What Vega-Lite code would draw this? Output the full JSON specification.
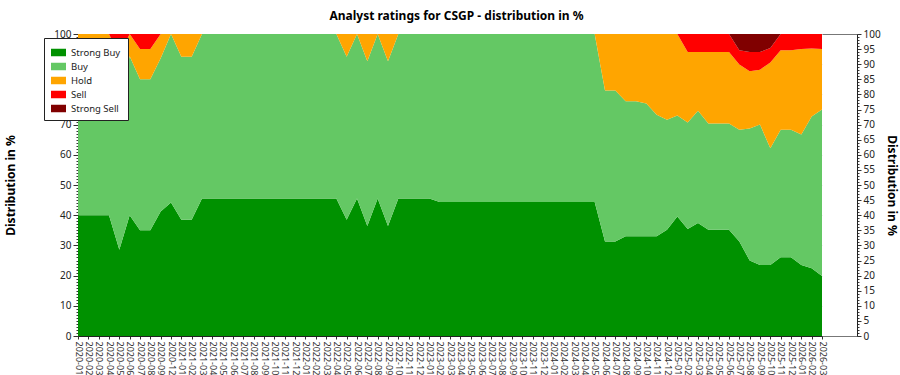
{
  "$schema": "https://vega.github.io/schema/vega-lite/v6.json",
  "width": 779,
  "height": 302,
  "autosize": "none",
  "padding": {"left": 78, "top": 34, "right": 43, "bottom": 39},
  "background": "white",
  "title": {"text": "Analyst ratings for CSGP - distribution in %", "anchor": "middle", "offset": 6, "fontSize": 12, "fontWeight": "bold", "color": "#000", "dx": -11, "font": "Noto Sans"},
  "data": {"values": [
    {"month": "2020-01", "Strong Buy": 40, "Buy": 50, "Hold": 10, "Sell": 0, "Strong Sell": 0},
    {"month": "2020-02", "Strong Buy": 40, "Buy": 50, "Hold": 10, "Sell": 0, "Strong Sell": 0},
    {"month": "2020-03", "Strong Buy": 40, "Buy": 50, "Hold": 10, "Sell": 0, "Strong Sell": 0},
    {"month": "2020-04", "Strong Buy": 40, "Buy": 50, "Hold": 10, "Sell": 0, "Strong Sell": 0},
    {"month": "2020-05", "Strong Buy": 28.6, "Buy": 50, "Hold": 14.3, "Sell": 7.1, "Strong Sell": 0},
    {"month": "2020-06", "Strong Buy": 40, "Buy": 52.6, "Hold": 7.4, "Sell": 0, "Strong Sell": 0},
    {"month": "2020-07", "Strong Buy": 35, "Buy": 50, "Hold": 10, "Sell": 5, "Strong Sell": 0},
    {"month": "2020-08", "Strong Buy": 35, "Buy": 50, "Hold": 10, "Sell": 5, "Strong Sell": 0},
    {"month": "2020-09", "Strong Buy": 41.2, "Buy": 50.8, "Hold": 8, "Sell": 0, "Strong Sell": 0},
    {"month": "2020-12", "Strong Buy": 44.2, "Buy": 55.8, "Hold": 0, "Sell": 0, "Strong Sell": 0},
    {"month": "2021-01", "Strong Buy": 38.5, "Buy": 54, "Hold": 7.5, "Sell": 0, "Strong Sell": 0},
    {"month": "2021-02", "Strong Buy": 38.5, "Buy": 54, "Hold": 7.5, "Sell": 0, "Strong Sell": 0},
    {"month": "2021-03", "Strong Buy": 45.5, "Buy": 54.5, "Hold": 0, "Sell": 0, "Strong Sell": 0},
    {"month": "2021-04", "Strong Buy": 45.5, "Buy": 54.5, "Hold": 0, "Sell": 0, "Strong Sell": 0},
    {"month": "2021-05", "Strong Buy": 45.5, "Buy": 54.5, "Hold": 0, "Sell": 0, "Strong Sell": 0},
    {"month": "2021-06", "Strong Buy": 45.5, "Buy": 54.5, "Hold": 0, "Sell": 0, "Strong Sell": 0},
    {"month": "2021-07", "Strong Buy": 45.5, "Buy": 54.5, "Hold": 0, "Sell": 0, "Strong Sell": 0},
    {"month": "2021-08", "Strong Buy": 45.5, "Buy": 54.5, "Hold": 0, "Sell": 0, "Strong Sell": 0},
    {"month": "2021-09", "Strong Buy": 45.5, "Buy": 54.5, "Hold": 0, "Sell": 0, "Strong Sell": 0},
    {"month": "2021-10", "Strong Buy": 45.5, "Buy": 54.5, "Hold": 0, "Sell": 0, "Strong Sell": 0},
    {"month": "2021-11", "Strong Buy": 45.5, "Buy": 54.5, "Hold": 0, "Sell": 0, "Strong Sell": 0},
    {"month": "2021-12", "Strong Buy": 45.5, "Buy": 54.5, "Hold": 0, "Sell": 0, "Strong Sell": 0},
    {"month": "2022-01", "Strong Buy": 45.5, "Buy": 54.5, "Hold": 0, "Sell": 0, "Strong Sell": 0},
    {"month": "2022-02", "Strong Buy": 45.5, "Buy": 54.5, "Hold": 0, "Sell": 0, "Strong Sell": 0},
    {"month": "2022-03", "Strong Buy": 45.5, "Buy": 54.5, "Hold": 0, "Sell": 0, "Strong Sell": 0},
    {"month": "2022-04", "Strong Buy": 45.5, "Buy": 54.5, "Hold": 0, "Sell": 0, "Strong Sell": 0},
    {"month": "2022-05", "Strong Buy": 38.5, "Buy": 54, "Hold": 7.5, "Sell": 0, "Strong Sell": 0},
    {"month": "2022-06", "Strong Buy": 45.5, "Buy": 54.5, "Hold": 0, "Sell": 0, "Strong Sell": 0},
    {"month": "2022-07", "Strong Buy": 36.4, "Buy": 54.6, "Hold": 9, "Sell": 0, "Strong Sell": 0},
    {"month": "2022-08", "Strong Buy": 45.5, "Buy": 54.5, "Hold": 0, "Sell": 0, "Strong Sell": 0},
    {"month": "2022-09", "Strong Buy": 36.4, "Buy": 54.6, "Hold": 9, "Sell": 0, "Strong Sell": 0},
    {"month": "2022-10", "Strong Buy": 45.5, "Buy": 54.5, "Hold": 0, "Sell": 0, "Strong Sell": 0},
    {"month": "2022-11", "Strong Buy": 45.5, "Buy": 54.5, "Hold": 0, "Sell": 0, "Strong Sell": 0},
    {"month": "2022-12", "Strong Buy": 45.5, "Buy": 54.5, "Hold": 0, "Sell": 0, "Strong Sell": 0},
    {"month": "2023-01", "Strong Buy": 45.5, "Buy": 54.5, "Hold": 0, "Sell": 0, "Strong Sell": 0},
    {"month": "2023-02", "Strong Buy": 44.4, "Buy": 55.6, "Hold": 0, "Sell": 0, "Strong Sell": 0},
    {"month": "2023-03", "Strong Buy": 44.4, "Buy": 55.6, "Hold": 0, "Sell": 0, "Strong Sell": 0},
    {"month": "2023-04", "Strong Buy": 44.4, "Buy": 55.6, "Hold": 0, "Sell": 0, "Strong Sell": 0},
    {"month": "2023-05", "Strong Buy": 44.4, "Buy": 55.6, "Hold": 0, "Sell": 0, "Strong Sell": 0},
    {"month": "2023-06", "Strong Buy": 44.4, "Buy": 55.6, "Hold": 0, "Sell": 0, "Strong Sell": 0},
    {"month": "2023-07", "Strong Buy": 44.4, "Buy": 55.6, "Hold": 0, "Sell": 0, "Strong Sell": 0},
    {"month": "2023-08", "Strong Buy": 44.4, "Buy": 55.6, "Hold": 0, "Sell": 0, "Strong Sell": 0},
    {"month": "2023-09", "Strong Buy": 44.4, "Buy": 55.6, "Hold": 0, "Sell": 0, "Strong Sell": 0},
    {"month": "2023-10", "Strong Buy": 44.4, "Buy": 55.6, "Hold": 0, "Sell": 0, "Strong Sell": 0},
    {"month": "2023-11", "Strong Buy": 44.4, "Buy": 55.6, "Hold": 0, "Sell": 0, "Strong Sell": 0},
    {"month": "2023-12", "Strong Buy": 44.4, "Buy": 55.6, "Hold": 0, "Sell": 0, "Strong Sell": 0},
    {"month": "2024-01", "Strong Buy": 44.4, "Buy": 55.6, "Hold": 0, "Sell": 0, "Strong Sell": 0},
    {"month": "2024-02", "Strong Buy": 44.4, "Buy": 55.6, "Hold": 0, "Sell": 0, "Strong Sell": 0},
    {"month": "2024-03", "Strong Buy": 44.4, "Buy": 55.6, "Hold": 0, "Sell": 0, "Strong Sell": 0},
    {"month": "2024-04", "Strong Buy": 44.4, "Buy": 55.6, "Hold": 0, "Sell": 0, "Strong Sell": 0},
    {"month": "2024-05", "Strong Buy": 44.4, "Buy": 55.6, "Hold": 0, "Sell": 0, "Strong Sell": 0},
    {"month": "2024-06", "Strong Buy": 31.3, "Buy": 50, "Hold": 18.7, "Sell": 0, "Strong Sell": 0},
    {"month": "2024-07", "Strong Buy": 31.3, "Buy": 50, "Hold": 18.7, "Sell": 0, "Strong Sell": 0},
    {"month": "2024-08", "Strong Buy": 33, "Buy": 44.7, "Hold": 22.3, "Sell": 0, "Strong Sell": 0},
    {"month": "2024-09", "Strong Buy": 33, "Buy": 44.7, "Hold": 22.3, "Sell": 0, "Strong Sell": 0},
    {"month": "2024-10", "Strong Buy": 33, "Buy": 44, "Hold": 23, "Sell": 0, "Strong Sell": 0},
    {"month": "2024-11", "Strong Buy": 33, "Buy": 40.3, "Hold": 26.7, "Sell": 0, "Strong Sell": 0},
    {"month": "2024-12", "Strong Buy": 35.2, "Buy": 36.4, "Hold": 28.4, "Sell": 0, "Strong Sell": 0},
    {"month": "2025-01", "Strong Buy": 39.6, "Buy": 33.4, "Hold": 27, "Sell": 0, "Strong Sell": 0},
    {"month": "2025-02", "Strong Buy": 35.4, "Buy": 35.3, "Hold": 23.3, "Sell": 6, "Strong Sell": 0},
    {"month": "2025-03", "Strong Buy": 37.4, "Buy": 37.2, "Hold": 19.4, "Sell": 6, "Strong Sell": 0},
    {"month": "2025-04", "Strong Buy": 35.2, "Buy": 35.2, "Hold": 23.6, "Sell": 6, "Strong Sell": 0},
    {"month": "2025-05", "Strong Buy": 35.2, "Buy": 35.2, "Hold": 23.6, "Sell": 6, "Strong Sell": 0},
    {"month": "2025-06", "Strong Buy": 35.2, "Buy": 35.2, "Hold": 23.6, "Sell": 6, "Strong Sell": 0},
    {"month": "2025-07", "Strong Buy": 31.3, "Buy": 37, "Hold": 21.6, "Sell": 4.7, "Strong Sell": 5.4},
    {"month": "2025-08", "Strong Buy": 25, "Buy": 43.7, "Hold": 19, "Sell": 6.3, "Strong Sell": 6},
    {"month": "2025-09", "Strong Buy": 23.5, "Buy": 46.5, "Hold": 18.2, "Sell": 5.8, "Strong Sell": 6},
    {"month": "2025-10", "Strong Buy": 23.5, "Buy": 38.7, "Hold": 28.4, "Sell": 4.8, "Strong Sell": 4.6},
    {"month": "2025-11", "Strong Buy": 26.1, "Buy": 42.2, "Hold": 26.3, "Sell": 5.4, "Strong Sell": 0},
    {"month": "2025-12", "Strong Buy": 26.1, "Buy": 42.2, "Hold": 26.3, "Sell": 5.4, "Strong Sell": 0},
    {"month": "2026-01", "Strong Buy": 23.5, "Buy": 43.2, "Hold": 28.3, "Sell": 5, "Strong Sell": 0},
    {"month": "2026-02", "Strong Buy": 22.4, "Buy": 50.3, "Hold": 22.5, "Sell": 4.8, "Strong Sell": 0},
    {"month": "2026-03", "Strong Buy": 19.9, "Buy": 55.1, "Hold": 20, "Sell": 5, "Strong Sell": 0}
  ]},
  "transform": [
    {"fold": ["Strong Buy", "Buy", "Hold", "Sell", "Strong Sell"], "as": ["rating", "value"]},
    {"calculate": "indexof(['Strong Buy','Buy','Hold','Sell','Strong Sell'], datum.rating)", "as": "ord"}
  ],
  "encoding": {
    "x": {
      "field": "month", "type": "ordinal", "title": null,
      "scale": {"type": "point", "padding": 0, "range": [0, 744]},
      "axis": {"labelAngle": 90, "labelAlign": "left", "labelBaseline": "middle", "labelFontSize": 9, "labelColor": "#333", "labelOverlap": false, "tickSize": 3, "labelPadding": 2, "tickColor": "#333", "domainColor": "#222", "grid": false, "labelFont": "Noto Sans"}
    },
    "color": {
      "field": "rating", "type": "nominal",
      "scale": {"domain": ["Strong Buy", "Buy", "Hold", "Sell", "Strong Sell"], "range": ["#009100", "#64c864", "#ffa500", "#ff0000", "#800000"]},
      "legend": {"orient": "none", "legendX": -34, "legendY": 4, "title": null, "fillColor": "white", "strokeColor": "#222", "padding": 7, "labelFontSize": 9.5, "labelColor": "#222", "labelFont": "Noto Sans", "symbolType": "M-1,-0.5H1V0.5H-1Z", "symbolSize": 225, "symbolStrokeWidth": 0, "symbolOpacity": 1, "rowPadding": 2, "labelOffset": 5}
    },
    "order": {"field": "ord", "type": "quantitative"}
  },
  "layer": [
    {
      "mark": {"type": "area", "interpolate": "linear", "strokeWidth": 0},
      "encoding": {
        "y": {
          "field": "value", "type": "quantitative", "stack": "zero",
          "scale": {"domain": [0, 100], "nice": false},
          "axis": {
            "orient": "left", "title": "Distribution in %", "titleFontSize": 12, "titleFontWeight": "bold", "titleColor": "#000", "titleFont": "Noto Sans",
            "titleX": -68, "titleY": 151, "titleBaseline": "middle", "titleAngle": -90, "titleAlign": "center",
            "tickCount": 100, "labelOverlap": false, "labelExpr": "datum.value % 10 === 0 ? datum.label : ''",
            "labelFontSize": 10, "labelColor": "#222", "labelPadding": 2, "labelFont": "Noto Sans",
            "tickSize": {"condition": {"test": "datum.value % 10 === 0", "value": 5}, "value": 2},
            "tickColor": "#333", "domainColor": "#222",
            "grid": true, "gridColor": "#e4e4e4",
            "gridOpacity": {"condition": {"test": "datum.value % 10 === 0", "value": 1}, "value": 0}
          }
        }
      }
    },
    {
      "mark": {"type": "area", "interpolate": "linear", "opacity": 0},
      "encoding": {
        "y": {
          "field": "value", "type": "quantitative", "stack": "zero",
          "scale": {"domain": [0, 100], "nice": false},
          "axis": {
            "orient": "right", "title": "Distribution in %", "titleFontSize": 12, "titleFontWeight": "bold", "titleColor": "#000", "titleFont": "Noto Sans",
            "titleX": 34, "titleY": 151, "titleBaseline": "middle", "titleAngle": 90, "titleAlign": "center",
            "tickCount": 100, "labelOverlap": false, "labelExpr": "datum.value % 5 === 0 ? datum.label : ''",
            "labelFontSize": 10, "labelColor": "#222", "labelPadding": 2, "labelFont": "Noto Sans",
            "tickSize": {"condition": {"test": "datum.value % 5 === 0", "value": 4}, "value": 2},
            "tickColor": "#333", "domainColor": "#222", "grid": false
          }
        }
      }
    }
  ],
  "resolve": {"scale": {"y": "independent"}},
  "config": {"view": {"stroke": "#777", "strokeWidth": 1}}
}
